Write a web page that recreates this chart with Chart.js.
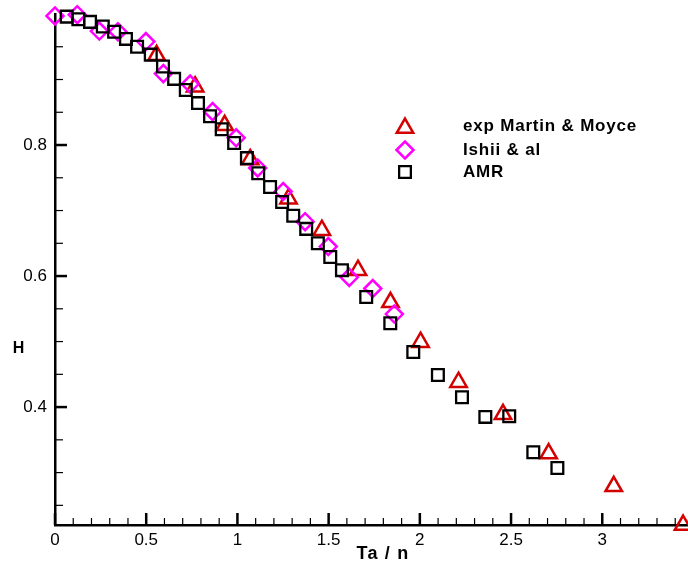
<!DOCTYPE html>
<html>
<head>
<meta charset="utf-8">
<script src="https://cdn.jsdelivr.net/npm/chart.js@4"></script>
<style>
  html, body { margin: 0; padding: 0; background: #fff; }
</style>
</head>
<body>
<canvas id="chart" width="688" height="572"></canvas>
<script>
// exp Martin & Moyce (triangles)
const expX = [0.557, 0.768, 0.930, 1.070, 1.280, 1.463, 1.661, 1.839, 2.004, 2.212, 2.456, 2.706, 3.063, 3.443];
const expH = [0.937, 0.889, 0.830, 0.778, 0.718, 0.670, 0.609, 0.560, 0.499, 0.438, 0.389, 0.329, 0.279, 0.220];

// Ishii & al (diamonds)
const ishiiX = [0.0, 0.122, 0.243, 0.345, 0.498, 0.594, 0.741, 0.864, 0.993, 1.111, 1.251, 1.371, 1.498, 1.613, 1.742, 1.860];
const ishiiH = [0.997, 0.999, 0.974, 0.973, 0.958, 0.909, 0.893, 0.851, 0.811, 0.765, 0.729, 0.683, 0.645, 0.598, 0.581, 0.542];

// AMR (squares)
const amrX = [0.064, 0.128, 0.192, 0.262, 0.324, 0.389, 0.450, 0.525, 0.592, 0.653, 0.717, 0.784, 0.850, 0.914, 0.982,
              1.052, 1.114, 1.179, 1.245, 1.306, 1.377, 1.441, 1.509, 1.573, 1.706, 1.838, 1.964, 2.099, 2.231, 2.359,
              2.490, 2.622, 2.754];
const amrH = [0.996, 0.992, 0.988, 0.981, 0.973, 0.962, 0.950, 0.938, 0.920, 0.901, 0.884, 0.864, 0.844, 0.824, 0.803,
              0.780, 0.757, 0.736, 0.713, 0.692, 0.672, 0.650, 0.629, 0.609, 0.568, 0.528, 0.484, 0.449, 0.415, 0.385,
              0.386, 0.331, 0.307];

const xTicks = [0, 0.5, 1, 1.5, 2, 2.5, 3];
const yTicks = [0.4, 0.6, 0.8];

const FONT = 'Liberation Sans, Arial, Helvetica, sans-serif';

const toPoints = (xs, ys) => xs.map((x, i) => ({ x: x, y: ys[i] }));

// ticks pointing into the plot, plus legend and axis titles
const frame = {
    id: 'frame',
    beforeDatasetsDraw(chart) {
        const ctx = chart.ctx;
        const xs = chart.scales.x, ys = chart.scales.y;
        const area = chart.chartArea;
        ctx.save();
        ctx.strokeStyle = '#000';
        // x ticks, minor every 0.1
        for (let i = 0; i <= 34; i++) {
            const major = i % 5 === 0;
            const px = xs.getPixelForValue(i / 10);
            ctx.lineWidth = major ? 2.5 : 1.2;
            ctx.beginPath();
            ctx.moveTo(px, area.bottom);
            ctx.lineTo(px, area.bottom - (major ? 12 : 7));
            ctx.stroke();
        }
        // y ticks, minor every 0.05
        for (let k = 5; k <= 19; k++) {
            const major = k % 4 === 0;
            const py = ys.getPixelForValue(k / 20);
            ctx.lineWidth = major ? 2.5 : 1.2;
            ctx.beginPath();
            ctx.moveTo(area.left, py);
            ctx.lineTo(area.left + (major ? 12 : 8), py);
            ctx.stroke();
        }
        ctx.restore();
    },
    afterDraw(chart) {
        const ctx = chart.ctx;
        ctx.save();
        ctx.fillStyle = '#000';
        ctx.textBaseline = 'middle';

        // axis titles
        ctx.font = 'bold 16px ' + FONT;
        ctx.textAlign = 'center';
        ctx.fillText('H', 18.5, 349);
        ctx.font = 'bold 18px ' + FONT;
        ctx.letterSpacing = '1.2px';
        ctx.fillText('Ta / n', 383, 554);

        // legend
        const rows = [126, 150, 172];
        ctx.font = 'bold 17px ' + FONT;
        ctx.letterSpacing = '0.8px';
        ctx.textAlign = 'left';
        chart.data.datasets.forEach((ds, i) => {
            const y = rows[i];
            ctx.fillStyle = '#000';
            ctx.fillText(ds.label, 463, y);
            ctx.fillStyle = 'rgba(0,0,0,0)';
            ctx.strokeStyle = ds.pointBorderColor;
            ctx.lineWidth = ds.pointBorderWidth;
            Chart.helpers.drawPoint(ctx, {
                pointStyle: ds.pointStyle,
                radius: ds.pointRadius,
                rotation: 0,
                borderWidth: ds.pointBorderWidth
            }, 405, y + (ds.pointStyle === 'triangle' ? 2 : 0));
        });
        ctx.restore();
    }
};

const scatterSet = (label, pts, style, color, r, bw, order) => ({
    label: label,
    data: pts,
    showLine: false,
    pointStyle: style,
    pointRadius: r,
    pointHoverRadius: r,
    pointBorderColor: color,
    pointBackgroundColor: 'rgba(0,0,0,0)',
    pointBorderWidth: bw,
    clip: false,
    order: order
});

// fixed axis box sizes, no label overflow padding
const fixBox = (size) => (s) => {
    if (s.isHorizontal()) s.height = size; else s.width = size;
    s.paddingTop = 0; s.paddingBottom = 0; s.paddingLeft = 0; s.paddingRight = 0;
};

new Chart(document.getElementById('chart'), {
    type: 'scatter',
    data: {
        datasets: [
            scatterSet('exp Martin & Moyce', toPoints(expX, expH), 'triangle', '#d40000', 9.5, 2.5, 3),
            scatterSet('Ishii & al', toPoints(ishiiX, ishiiH), 'rectRot', '#ff00ff', 8.5, 2.5, 2),
            scatterSet('AMR', toPoints(amrX, amrH), 'rect', '#000000', 8.3, 2.3, 1)
        ]
    },
    options: {
        responsive: false,
        animation: false,
        events: [],
        layout: { autoPadding: false, padding: { top: 14, right: 0, left: 0, bottom: 0 } },
        plugins: { legend: { display: false }, tooltip: { enabled: false } },
        scales: {
            x: {
                type: 'linear', min: 0, max: 3.47,
                afterBuildTicks: (s) => { s.ticks = xTicks.map(v => ({ value: v })); },
                afterFit: fixBox(47),
                grid: { display: false, drawTicks: false },
                border: { display: true, color: '#000', width: 2.5 },
                ticks: { color: '#000', font: { family: FONT, size: 17 }, padding: 5, maxRotation: 0, autoSkip: false,
                         callback: (v) => String(v) }
            },
            y: {
                type: 'linear', min: 0.22, max: 1.0,
                afterBuildTicks: (s) => { s.ticks = yTicks.map(v => ({ value: v })); },
                afterFit: fixBox(55),
                grid: { display: false, drawTicks: false },
                border: { display: true, color: '#000', width: 2.5 },
                ticks: { color: '#000', font: { family: FONT, size: 17 }, padding: 8, autoSkip: false,
                         callback: (v) => String(v) }
            }
        }
    },
    plugins: [frame]
});
</script>
</body>
</html>
